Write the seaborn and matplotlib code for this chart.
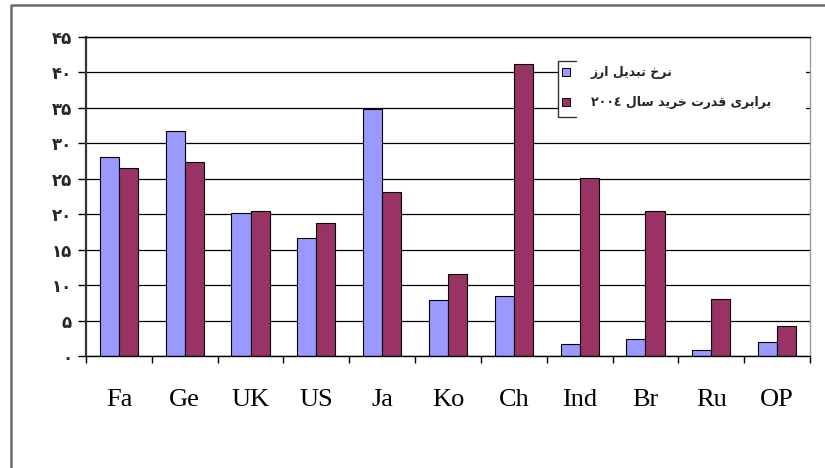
import re
import numpy as np
import pandas as pd
import matplotlib
matplotlib.use("Agg")
import matplotlib.pyplot as plt
from matplotlib.lines import Line2D
from matplotlib.patches import Rectangle
import seaborn as sns

# ---- data -------------------------------------------------------------
countries = ["Fa", "Ge", "UK", "US", "Ja", "Ko", "Ch", "Ind", "Br", "Ru", "OP"]
exchange_rate = [28.1, 31.8, 20.2, 16.7, 34.9, 7.9, 8.5, 1.65, 2.35, 0.85, 2.0]
ppp_2004 = [26.5, 27.3, 20.4, 18.8, 23.2, 11.6, 41.2, 25.1, 20.4, 8.05, 4.2]

series_names = ["نرخ تبدیل ارز", "برابری قدرت خرید سال ٢٠٠٤"]
y_ticks = [0, 5, 10, 15, 20, 25, 30, 35, 40, 45]
y_tick_labels = ["۰", "۵", "۱۰", "۱۵", "۲۰", "۲۵", "۳۰", "۳۵", "۴۰", "۴۵"]
colors = ["#9999FF", "#993366"]

# ---- minimal Arabic-script shaping (matplotlib has no bidi/joining) -----
# isolated, final, initial, medial presentation forms
ARABIC_FORMS = {
    "ا": (0xFE8D, 0xFE8E, None, None),
    "ب": (0xFE8F, 0xFE90, 0xFE91, 0xFE92),
    "ت": (0xFE95, 0xFE96, 0xFE97, 0xFE98),
    "خ": (0xFEA5, 0xFEA6, 0xFEA7, 0xFEA8),
    "د": (0xFEA9, 0xFEAA, None, None),
    "ر": (0xFEAD, 0xFEAE, None, None),
    "ز": (0xFEAF, 0xFEB0, None, None),
    "س": (0xFEB1, 0xFEB2, 0xFEB3, 0xFEB4),
    "ق": (0xFED5, 0xFED6, 0xFED7, 0xFED8),
    "ل": (0xFEDD, 0xFEDE, 0xFEDF, 0xFEE0),
    "ن": (0xFEE5, 0xFEE6, 0xFEE7, 0xFEE8),
    "و": (0xFEED, 0xFEEE, None, None),
    "ی": (0xFEEF, 0xFEF0, 0xFEF3, 0xFEF4),
}


def shape_rtl(text):
    out = []
    for i, ch in enumerate(text):
        forms = ARABIC_FORMS.get(ch)
        if forms is None:
            out.append(ch)
            continue
        prev = ARABIC_FORMS.get(text[i - 1]) if i > 0 else None
        nxt = text[i + 1] if i + 1 < len(text) else ""
        joins_prev = prev is not None and prev[2] is not None
        joins_next = forms[2] is not None and nxt in ARABIC_FORMS
        if joins_prev and joins_next:
            code = forms[3]
        elif joins_prev:
            code = forms[1]
        elif joins_next:
            code = forms[2]
        else:
            code = forms[0]
        out.append(chr(code))
    visual = "".join(reversed(out))
    # numbers keep their left-to-right order
    return re.sub(r"[0-9\u0660-\u0669\u06F0-\u06F9]+",
                  lambda m: m.group(0)[::-1], visual)


df = pd.DataFrame({
    "country": countries * 2,
    "value": exchange_rate + ppp_2004,
    "series": [series_names[0]] * len(countries) + [series_names[1]] * len(countries),
})

# ---- figure -----------------------------------------------------------
sns.set_theme(style="white")
plt.rcParams["font.family"] = ["DejaVu Sans"]

W, H = 825, 468
fig = plt.figure(figsize=(W / 100, H / 100), dpi=100)
fig.patch.set_facecolor("white")


def fx(px):
    return px / W


def fy(py):
    return 1 - py / H


ax = fig.add_axes([fx(86), fy(356), fx(810) - fx(86), fy(37) - fy(356)])

sns.barplot(data=df, x="country", y="value", hue="series",
            order=countries, hue_order=series_names,
            palette=colors, width=0.58, gap=0,
            edgecolor="black", linewidth=0.8, saturation=1,
            legend=False, ax=ax)

ax.set_xlim(-0.5, len(countries) - 0.5)
ax.set_ylim(0, 45)
ax.set_xlabel("")
ax.set_ylabel("")

# horizontal gridlines
ax.set_yticks(y_ticks)
ax.set_yticklabels(y_tick_labels, fontsize=12, fontweight="bold",
                   family=["DejaVu Sans"])
ax.yaxis.grid(True, color="black", linewidth=0.9)
ax.set_axisbelow(True)

# category labels and boundary ticks
ax.set_xticks(range(len(countries)))
ax.set_xticklabels(countries, fontsize=19, family=["Liberation Serif"])
ax.set_xticks(np.arange(-0.5, len(countries), 1), minor=True)
ax.tick_params(axis="x", which="major", length=0, pad=24, colors="black")
ax.tick_params(axis="x", which="minor", length=5, width=1, direction="out",
               color="black", bottom=True)
ax.tick_params(axis="y", which="major", length=6, width=1, direction="out",
               pad=4, color="black", left=True)

for side in ("bottom", "top"):
    ax.spines[side].set_visible(True)
    ax.spines[side].set_color("black")
    ax.spines[side].set_linewidth(1)
ax.spines["left"].set_color("#333333")
ax.spines["left"].set_linewidth(1.6)
ax.spines["right"].set_color("#9a9a9a")
ax.spines["right"].set_linewidth(1)

# legend box
ax.add_patch(Rectangle((fx(558), fy(117)), fx(806) - fx(558), fy(61) - fy(117),
                       transform=fig.transFigure, facecolor="white",
                       edgecolor="none", zorder=3))
fig.add_artist(Line2D([fx(576), fx(558), fx(558), fx(576)],
                      [fy(61), fy(61), fy(117), fy(117)],
                      color="#333333", linewidth=1))

handles = [Line2D([], [], marker="s", linestyle="", markersize=6,
                  markerfacecolor=c, markeredgecolor="black",
                  markeredgewidth=0.7) for c in colors]
leg = ax.legend(handles, [shape_rtl(s) for s in series_names],
                loc="upper left", bbox_to_anchor=(fx(561), fy(66)),
                bbox_transform=fig.transFigure, frameon=False,
                borderpad=0, borderaxespad=0, handlelength=0.8,
                handletextpad=1.6, labelspacing=1.35,
                prop={"family": ["DejaVu Sans"], "weight": "bold", "size": 9})
leg.set_zorder(5)

# outer frame
fig.add_artist(Line2D([fx(11), fx(11), fx(825)], [fy(470), fy(5), fy(5)],
                      color="#6a6a6a", linewidth=1.8))

fig.savefig("out.png", dpi=100, facecolor="white")
